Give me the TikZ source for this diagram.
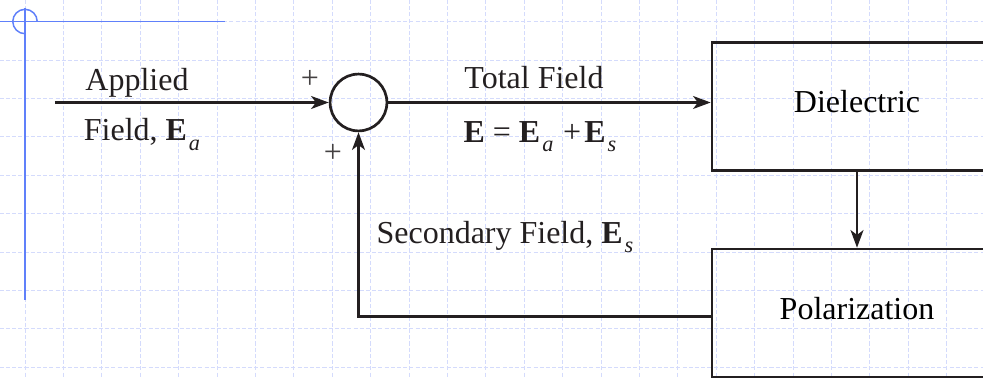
\documentclass[tikz,border=0pt]{standalone}
\usepackage{fontspec}
\setmainfont{Liberation Serif}
\usetikzlibrary{arrows.meta, positioning, calc}
\definecolor{ink}{RGB}{35,31,32}
\definecolor{gridblue}{RGB}{212,219,252}
\definecolor{guideblue}{RGB}{96,128,250}
\newcommand{\fieldvec}[1]{\textbf{E}\kern1.5pt\raisebox{-7.4pt}{\fontsize{16.5}{18}\selectfont\itshape #1}}

\begin{document}
\begin{tikzpicture}[
    font=\fontsize{23.7}{28}\selectfont,
    block/.style={draw=ink, line width=2pt, minimum width=7.55cm, minimum height=3.33cm, text depth=0.25cm, align=center},
    sumnode/.style={draw=ink, line width=2pt, circle, minimum size=1.48cm, inner sep=0pt},
    arrow/.style={-{Stealth[length=13pt, width=9.5pt, inset=3.5pt]}, line width=2pt, draw=ink},
    txt/.style={anchor=base, text=ink},
    gridline/.style={gridblue, line width=0.6pt, dash pattern=on 3pt off 1.6pt},
    guide/.style={guideblue, line width=1.1pt}
]
\useasboundingbox (-0.651,0.560) rectangle (24.948,-9.258);
\clip (-0.651,0.560) rectangle (24.948,-9.258);

% Grid
\foreach \x in {0,...,24} {
    \draw[gridline] (\x,0.56) -- (\x,-9.26);
}
\foreach \y in {0,...,9} {
    \draw[gridline] (-0.66,-\y) -- (24.95,-\y);
}

% Origin marks
\draw[guide] (-0.66,0) -- (5.21,0);
\draw[guide] (0,0.36) -- (0,-7.25);
\draw[guide] (0.318,0) arc[start angle=0, end angle=270, radius=0.318];

% Blocks
\coordinate (in) at (0.781,-2.109);
\node[sumnode] (sum) at (8.685,-2.109) {};
\node[block] (diel) at (21.667,-2.214) {Dielectric};
\node[block] (pol) at (21.667,-7.591) {Polarization};

% Signs
\node[txt, text=ink!85] (plusin) at (7.422,-1.75) {+};
\node[txt, text=ink!85] (plusfb) at (8.021,-3.68) {+};

% Labels
\node[txt] (applied) at (2.917,-1.784) {Applied};
\node[txt] (appliedE) at (3.047,-3.086) {Field, \fieldvec{a}};
\node[txt] (total) at (13.255,-1.732) {Total Field};
\node[txt] (totalE) at (13.411,-3.138) {\textbf{E} = \fieldvec{a}\hspace{0.3em}+\hspace{0.1em}\fieldvec{s}};
\node[txt] (second) at (12.5,-5.768) {Secondary Field, \fieldvec{s}};

% Connectors
\draw[arrow] (in) -- (sum.west);
\draw[arrow] (sum.east) -- (sum.east -| diel.west);
\draw[arrow] (diel.south) -- (pol.north);
\draw[arrow] ([yshift=-0.1cm]pol.west) -| (sum.south);

\end{tikzpicture}
\end{document}
